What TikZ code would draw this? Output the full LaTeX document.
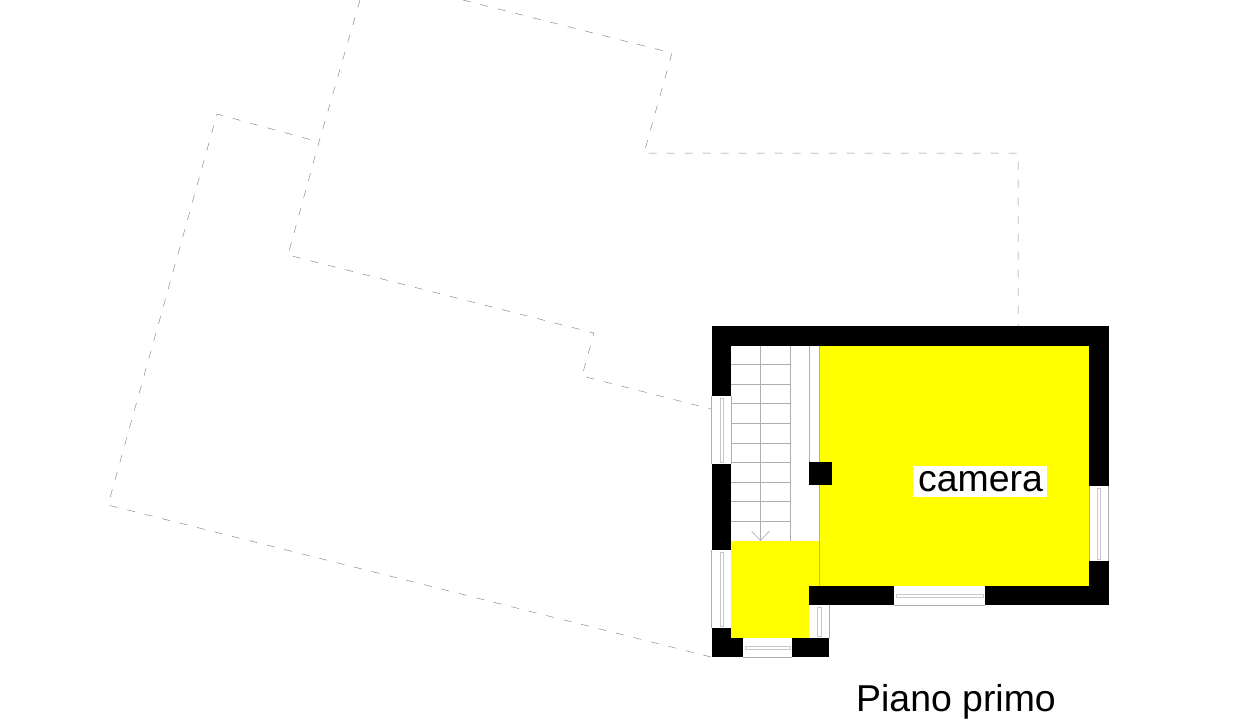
\documentclass[tikz,border=0pt]{standalone}
\usepackage{fontspec}
\setmainfont{Liberation Sans}
\definecolor{roomyellow}{RGB}{255,255,0}
\definecolor{stairgray}{RGB}{175,175,175}
\definecolor{wingray}{RGB}{200,200,200}
\definecolor{dashgray}{RGB}{140,140,140}
\tikzset{
  x=1pt,y=-1pt,
  wall/.style={fill=black,draw=none},
  room/.style={fill=roomyellow,draw=none},
  thin line/.style={draw=stairgray,line width=0.6pt},
  window line/.style={draw=wingray,line width=0.6pt},
  outline/.style={draw=dashgray,line width=0.5pt,dash pattern=on 8pt off 10pt},
  label/.style={font=\fontsize{37.4}{37.4}\selectfont,inner sep=0pt,text=black}
}
\begin{document}
\begin{tikzpicture}
\useasboundingbox (0,0) rectangle (1240,720);
\fill[white] (0,0) rectangle (1240,720);
% dashed outlines
\draw[outline] (360,0) -- (319,142) -- (288,255) -- (594,333) -- (582,376) -- (711,409);
\draw[outline] (463,0) -- (672,53) -- (644,153) -- (1018,153) -- (1018,326);
\draw[outline] (711,657) -- (108,505) -- (217,114) -- (319,142);
% rooms
\fill[room] (819,345.5) rectangle (1089,586);
\fill[room] (731,541) rectangle (819,586);
\fill[room] (731,586) rectangle (809,638);
% stairs
\foreach \y in {364.5,384,403.5,423,443,462.5,482,501.5,521}
  \draw[thin line] (731,\y) -- (790,\y);
\draw[thin line] (760.5,345.5) -- (760.5,541);
\draw[thin line] (790,345.5) -- (790,541);
\draw[thin line] (809.5,345.5) -- (809.5,462);
\draw[thin line] (819,345.5) -- (819,586);
\draw[thin line] (751.5,531) -- (760.5,540.5) -- (769.5,531);
% windows
\draw[thin line] (711.5,396) -- (711.5,464) (731,396) -- (731,464);
\draw[window line] (720,398) rectangle (723.5,462);
\draw[thin line] (711.5,550) -- (711.5,628);
\draw[window line] (720,552) rectangle (723.5,626);
\draw[thin line] (743,657) -- (792,657);
\draw[window line] (745,646.5) rectangle (790,649);
\draw[thin line] (829,605) -- (829,638);
\draw[window line] (817.5,607) rectangle (821,636);
\draw[thin line] (894,605) -- (985,605);
\draw[window line] (896,594.5) rectangle (983,597);
\draw[thin line] (1108.5,486) -- (1108.5,561) (1089,486) -- (1089,561);
\draw[window line] (1097,488) rectangle (1100.5,559);
% walls
\fill[wall] (711.5,326) rectangle (1108.5,345.5);
\fill[wall] (711.5,326) rectangle (731,396);
\fill[wall] (711.5,464) rectangle (731,550);
\fill[wall] (711.5,628) rectangle (731,657);
\fill[wall] (711.5,638) rectangle (743,657);
\fill[wall] (792,638) rectangle (829,657);
\fill[wall] (809,586) rectangle (894,605);
\fill[wall] (985,586) rectangle (1108.5,605);
\fill[wall] (1089,326) rectangle (1108.5,486);
\fill[wall] (1089,561) rectangle (1108.5,605);
\fill[wall] (809,462) rectangle (832,485);
% labels
\fill[white] (913,466) rectangle (1047,497);
\node[label,anchor=base] (camera) at (980.5,491.5) {camera};
\node[label,anchor=base] (piano) at (956,711) {Piano primo};
\end{tikzpicture}
\end{document}
